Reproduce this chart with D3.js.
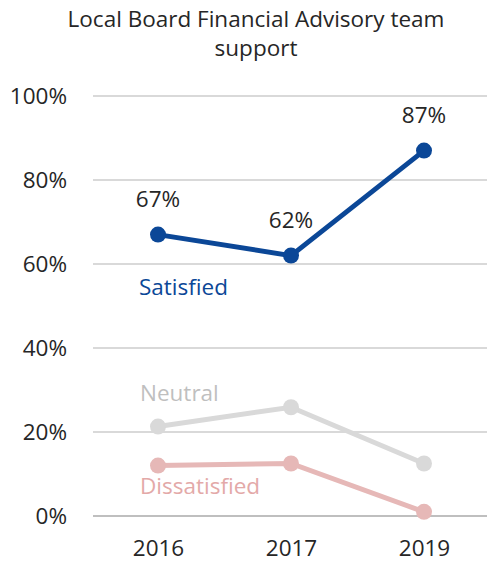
<!DOCTYPE html>
<html>
<head>
<meta charset="utf-8">
<script src="https://cdn.jsdelivr.net/npm/d3@7"></script>
<style>
  body { margin: 0; background: #fff; }
  text { font-family: "Open Sans", "Noto Sans", sans-serif; }
</style>
</head>
<body>
<div id="chart"></div>
<script>
// Data
var years = ["2016", "2017", "2019"];
var satisfied = [67, 62, 87];
var neutral = [21.3, 25.9, 12.5];
var dissatisfied = [12, 12.5, 1];
var yTicks = [0, 20, 40, 60, 80, 100];

var width = 487, height = 563;
var margin = {top: 96, right: 0, bottom: 47, left: 93};

var svg = d3.select("#chart").append("svg")
    .attr("width", width)
    .attr("height", height);

var xScale = d3.scalePoint().domain(years).range([158, 424]);
var yScale = d3.scaleLinear().domain([0, 100]).range([height - margin.bottom, margin.top]);

// title
svg.append("text").attr("x", 256).attr("y", 27).attr("text-anchor", "middle")
  .style("font-size", "22.5px").style("fill", "#262626")
  .text("Local Board Financial Advisory team");
svg.append("text").attr("x", 256).attr("y", 56).attr("text-anchor", "middle")
  .style("font-size", "22.5px").style("fill", "#262626")
  .text("support");

// gridlines
svg.selectAll(".grid").data(yTicks).enter().append("line")
  .attr("x1", margin.left).attr("x2", width)
  .attr("y1", function(d) { return yScale(d); })
  .attr("y2", function(d) { return yScale(d); })
  .style("stroke", function(d) { return d === 0 ? "#bfbfbf" : "#d9d9d9"; })
  .style("stroke-width", 2);

// y axis labels
var yAxis = d3.axisLeft(yScale).tickValues(yTicks).tickSize(0).tickPadding(0)
  .tickFormat(function(d) { return d + "%"; });
var yAxisEl = svg.append("g").attr("transform", "translate(67,0)").call(yAxis);
yAxisEl.select(".domain").remove();
yAxisEl.selectAll("text").style("font-size", "22.5px").style("fill", "#262626")
  .style("font-family", "'Open Sans', sans-serif");

// x axis labels
var xAxis = d3.axisBottom(xScale).tickSize(0).tickPadding(0);
var xAxisEl = svg.append("g").attr("transform", "translate(0,540)").call(xAxis);
xAxisEl.select(".domain").remove();
xAxisEl.selectAll("text").style("font-size", "22.5px").style("fill", "#262626")
  .style("font-family", "'Open Sans', sans-serif");

var line = d3.line()
  .x(function(d, i) { return xScale(years[i]); })
  .y(function(d) { return yScale(d); });

var series = [
  {name: "Dissatisfied", values: dissatisfied, color: "#e6b8b7", text: "#e3a9a8", lx: 140, ly: 494},
  {name: "Neutral", values: neutral, color: "#d9d9d9", text: "#bfbfbf", lx: 140, ly: 401},
  {name: "Satisfied", values: satisfied, color: "#0b4797", text: "#0b4797", lx: 139, ly: 295}
];

series.forEach(function(s) {
  svg.append("path").datum(s.values)
    .attr("d", line)
    .style("fill", "none")
    .style("stroke", s.color)
    .style("stroke-width", 5);
  svg.selectAll(null).data(s.values).enter().append("circle")
    .attr("cx", function(d, i) { return xScale(years[i]); })
    .attr("cy", function(d) { return yScale(d); })
    .attr("r", 8)
    .style("fill", s.color);
  svg.append("text").attr("x", s.lx).attr("y", s.ly)
    .style("font-size", "22.5px")
    .style("fill", s.text)
    .text(s.name);
});

// value labels on satisfied
svg.selectAll(".vlabel").data(satisfied).enter().append("text")
  .attr("x", function(d, i) { return xScale(years[i]); })
  .attr("y", function(d) { return yScale(d) - 28; })
  .attr("text-anchor", "middle")
  .style("font-size", "22.5px").style("fill", "#262626")
  .text(function(d) { return d + "%"; });
</script>
</body>
</html>
